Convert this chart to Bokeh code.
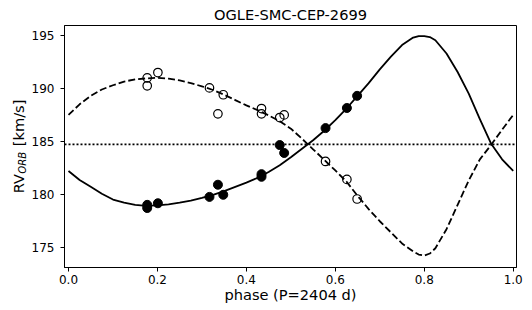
import numpy as np
from bokeh.plotting import figure
from bokeh.models import (Range1d, Span, FixedTicker, PrintfTickFormatter,
                          LinearAxis, Title)
from bokeh.embed import file_html
from bokeh.resources import INLINE

# ---------------- data ----------------
title_text = "OGLE-SMC-CEP-2699"
x_label_text = "phase (P=2404 d)"
y_label_main = "RV"
y_label_sub = "ORB"
y_label_unit = "[km/s]"

phase_model = [0.000, 0.025, 0.050, 0.075, 0.100, 0.125, 0.150, 0.175, 0.200, 0.225,
               0.250, 0.275, 0.300, 0.325, 0.350, 0.375, 0.400, 0.425, 0.450, 0.475,
               0.500, 0.525, 0.550, 0.575, 0.600, 0.625, 0.650, 0.675, 0.700, 0.725,
               0.750, 0.775, 0.7875, 0.800, 0.8125, 0.825, 0.850, 0.875, 0.900, 0.925,
               0.950, 0.975, 1.000]

rv_primary_model = [182.2, 181.35, 180.7, 180.05, 179.5, 179.2, 179.0, 178.9, 178.95, 179.05,
                    179.2, 179.4, 179.65, 179.95, 180.3, 180.7, 181.1, 181.55, 182.1, 182.75,
                    183.5, 184.3, 185.1, 186.0, 187.0, 188.1, 189.3, 190.5, 191.8, 193.0,
                    194.1, 194.8, 194.95, 194.95, 194.85, 194.55, 193.3, 191.55, 189.5, 187.1,
                    184.8, 183.3, 182.2]

rv_secondary_model = [187.5, 188.5, 189.3, 189.9, 190.3, 190.65, 190.85, 190.95, 191.0, 190.92,
                      190.75, 190.5, 190.2, 189.85, 189.4, 188.9, 188.4, 187.95, 187.45, 186.9,
                      186.2, 185.25, 184.25, 183.25, 182.25, 181.2, 179.85, 178.6, 177.45, 176.4,
                      175.35, 174.6, 174.3, 174.2, 174.4, 174.9, 176.7, 179.0, 181.3, 183.3,
                      184.65, 186.1, 187.5]

phase_obs = [0.177, 0.177, 0.201, 0.317, 0.336, 0.348, 0.434, 0.434, 0.475, 0.485, 0.578, 0.626, 0.649]
rv_primary_obs = [179.0, 178.7, 179.15, 179.75, 180.9, 179.95, 181.9, 181.65, 184.65, 183.9, 186.25, 188.15, 189.3]
rv_secondary_obs = [191.0, 190.25, 191.5, 190.05, 187.6, 189.4, 188.1, 187.6, 187.25, 187.5, 183.1, 181.4, 179.55]

gamma = 184.72

x_ticks = [0.0, 0.2, 0.4, 0.6, 0.8, 1.0]
y_ticks = [175, 180, 185, 190, 195]

FONT = "DejaVu Sans"
NBSP = "\u00a0"

# ---------------- figure ----------------
p = figure(width=532, height=310,
           x_range=Range1d(-0.009, 1.0074), y_range=Range1d(173.08, 195.945),
           output_backend="svg", toolbar_location=None,
           min_border_left=64, min_border_right=16, min_border_top=25, min_border_bottom=43)

p.title = Title(text=title_text, align="center", vertical_align="bottom", standoff=6,
                text_font=FONT, text_font_size="14.6px", text_font_style="normal",
                text_color="black")

p.background_fill_color = "white"
p.border_fill_color = "white"
p.outline_line_color = "black"
p.outline_line_width = 1
p.grid.visible = False

for ax in (p.xaxis[0], p.yaxis[0]):
    ax.axis_line_color = "black"
    ax.axis_line_width = 1
    ax.major_tick_line_color = "black"
    ax.major_tick_line_width = 1
    ax.major_tick_out = 4
    ax.major_tick_in = 0
    ax.minor_tick_line_color = None
    ax.major_label_text_font = FONT
    ax.major_label_text_font_size = "12px"
    ax.major_label_text_color = "black"

p.xaxis.ticker = FixedTicker(ticks=x_ticks)
p.xaxis.formatter = PrintfTickFormatter(format="%.1f")
p.xaxis.major_label_standoff = 3
p.xaxis.axis_label = x_label_text
p.xaxis.axis_label_text_font = FONT
p.xaxis.axis_label_text_font_size = "14.6px"
p.xaxis.axis_label_text_font_style = "normal"
p.xaxis.axis_label_text_color = "black"
p.xaxis.axis_label_standoff = -1

p.yaxis.ticker = FixedTicker(ticks=y_ticks)
p.yaxis.major_label_standoff = 6


def label_axis(text, size, style, standoff):
    return LinearAxis(ticker=FixedTicker(ticks=[]), axis_line_color=None,
                      major_tick_out=0, major_tick_in=0, minor_tick_out=0, minor_tick_in=0,
                      major_tick_line_color=None, minor_tick_line_color=None,
                      major_label_standoff=0,
                      axis_label=text, axis_label_standoff=standoff,
                      axis_label_text_font=FONT, axis_label_text_font_size=size,
                      axis_label_text_font_style=style, axis_label_text_color="black")


# y label "RV_ORB [km/s]": subscript (padded so it sits right after "RV") and main text
p.add_layout(label_axis(y_label_sub + NBSP * 10, "10.2px", "italic", 1), "left")
p.add_layout(label_axis(y_label_main + NBSP * 6 + y_label_unit, "14.6px", "normal", -13), "left")

# systemic velocity
p.add_layout(Span(location=gamma, dimension="width", line_color="black",
                  line_width=1.8, line_dash="2 2"))

# model curves
p.line(phase_model, rv_primary_model, line_color="black", line_width=1.8, line_join="round")
p.line(phase_model, rv_secondary_model, line_color="black", line_width=1.8, line_dash="7 3",
       line_join="round")

# observations
p.scatter(phase_obs, rv_primary_obs, marker="circle", size=9, fill_color="black", line_color="black")
p.scatter(phase_obs, rv_secondary_obs, marker="circle", size=8.5, fill_color=None,
          line_color="black", line_width=1.2)

open("out.html", "w").write(file_html(p, INLINE))
